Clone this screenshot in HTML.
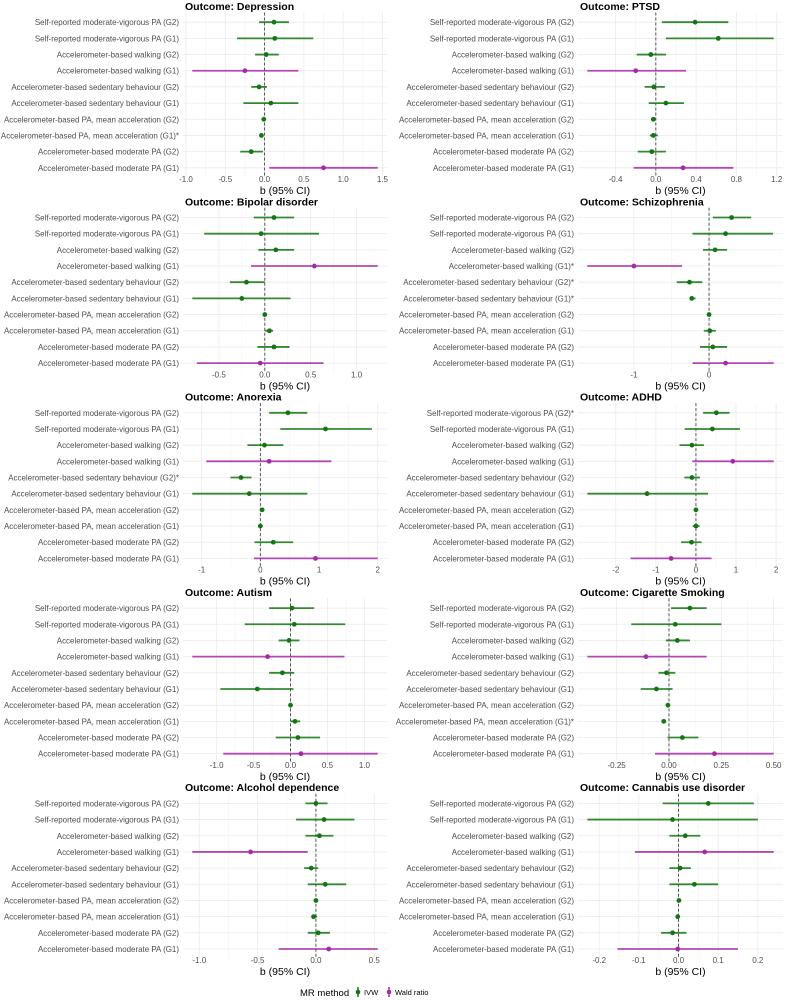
<!DOCTYPE html>
<html><head><meta charset="utf-8">
<style>
html,body{margin:0;padding:0;background:#fff;}
svg{display:block;font-family:"Liberation Sans",sans-serif;}
</style></head>
<body>
<svg id="chart" width="791" height="1000" viewBox="0 0 791 1000" xmlns="http://www.w3.org/2000/svg"></svg>
<script>
const exposures = ["Self-reported moderate-vigorous PA (G2)","Self-reported moderate-vigorous PA (G1)","Accelerometer-based walking (G2)","Accelerometer-based walking (G1)","Accelerometer-based sedentary behaviour (G2)","Accelerometer-based sedentary behaviour (G1)","Accelerometer-based PA, mean acceleration (G2)","Accelerometer-based PA, mean acceleration (G1)","Accelerometer-based moderate PA (G2)","Accelerometer-based moderate PA (G1)"];
const methods = ["IVW","IVW","IVW","Wald","IVW","IVW","IVW","IVW","IVW","Wald"];
const outcomes = ["Depression","PTSD","Bipolar disorder","Schizophrenia","Anorexia","ADHD","Autism","Cigarette Smoking","Alcohol dependence","Cannabis use disorder"];
const starred = [[7],[],[],[3,4,5],[4],[0],[],[7],[],[]];
const ticks = [[-1,-0.5,0,0.5,1,1.5],[-0.4,0,0.4,0.8,1.2],[-0.5,0,0.5,1],[-1,0],[-1,0,1,2],[-2,-1,0,1,2],[-1,-0.5,0,0.5,1],[-0.25,0,0.25,0.5],[-1,-0.5,0,0.5],[-0.2,-0.1,0,0.1,0.2]];
const tickLabels = [["-1.0","-0.5","0.0","0.5","1.0","1.5"],["-0.4","0.0","0.4","0.8","1.2"],["-0.5","0.0","0.5","1.0"],["-1","0"],["-1","0","1","2"],["-2","-1","0","1","2"],["-1.0","-0.5","0.0","0.5","1.0"],["-0.25","0.00","0.25","0.50"],["-1.0","-0.5","0.0","0.5"],["-0.2","-0.1","0.0","0.1","0.2"]];
// estimates, lower CI, upper CI per outcome (rows in exposure order)
const est = [
 [0.12,0.13,0.02,-0.25,-0.07,0.08,-0.01,-0.04,-0.17,0.75],
 [0.39,0.62,-0.05,-0.20,-0.02,0.10,-0.025,-0.025,-0.04,0.27],
 [0.10,-0.04,0.12,0.54,-0.20,-0.25,0,0.05,0.10,-0.05],
 [0.30,0.22,0.08,-1.0,-0.26,-0.23,0,0.01,0.05,0.22],
 [0.47,1.11,0.07,0.15,-0.33,-0.19,0.03,0,0.22,0.94],
 [0.51,0.41,-0.10,0.92,-0.10,-1.22,0,0,-0.11,-0.62],
 [0.02,0.05,-0.02,-0.31,-0.11,-0.45,0,0.06,0.10,0.14],
 [0.10,0.03,0.04,-0.11,-0.012,-0.06,-0.005,-0.025,0.064,0.217],
 [0.0,0.07,0.03,-0.56,-0.04,0.08,0,-0.02,0.02,0.11],
 [0.075,-0.015,0.017,0.066,0.004,0.04,0.001,-0.002,-0.015,-0.002]];
const lower = [
 [-0.07,-0.35,-0.12,-0.92,-0.17,-0.27,-0.03,-0.06,-0.31,0.06],
 [0.06,0.10,-0.19,-0.68,-0.11,-0.07,-0.04,-0.06,-0.18,-0.22],
 [-0.12,-0.66,-0.07,-0.15,-0.38,-0.79,-0.01,0.0,-0.08,-0.74],
 [0.05,-0.22,-0.08,-1.62,-0.43,-0.26,-0.01,-0.07,-0.12,-0.22],
 [0.15,0.34,-0.22,-0.92,-0.51,-1.16,0.01,-0.04,-0.10,-0.11],
 [0.18,-0.28,-0.41,-0.09,-0.29,-2.71,-0.02,-0.08,-0.37,-1.63],
 [-0.29,-0.62,-0.16,-1.33,-0.29,-0.95,-0.01,0,-0.20,-0.91],
 [0.01,-0.18,-0.015,-0.39,-0.05,-0.135,-0.01,-0.032,-0.007,-0.067],
 [-0.09,-0.17,-0.09,-1.06,-0.10,-0.07,-0.005,-0.04,-0.07,-0.32],
 [-0.04,-0.23,-0.023,-0.11,-0.023,-0.023,-0.001,-0.005,-0.044,-0.154]];
const upper = [
 [0.31,0.62,0.18,0.43,0.03,0.43,0.01,-0.02,-0.02,1.44],
 [0.72,1.17,0.10,0.30,0.09,0.28,0.0,0.02,0.10,0.77],
 [0.32,0.59,0.32,1.23,0.0,0.28,0.01,0.09,0.27,0.64],
 [0.56,0.85,0.24,-0.36,-0.09,-0.18,0.01,0.09,0.24,0.86],
 [0.80,1.90,0.39,1.21,-0.15,0.80,0.06,0.04,0.56,2.0],
 [0.84,1.10,0.20,1.94,0.10,0.30,0.04,0.09,0.14,0.39],
 [0.32,0.74,0.12,0.73,0.05,0.04,0.01,0.13,0.40,1.18],
 [0.18,0.25,0.10,0.18,0.03,0.017,0.002,-0.017,0.14,0.50],
 [0.10,0.33,0.15,-0.07,0.02,0.26,0.01,0.01,0.12,0.53],
 [0.19,0.20,0.055,0.24,0.031,0.10,0.004,0.0,0.02,0.15]];

const NS="http://www.w3.org/2000/svg";
const svg=document.getElementById('chart');
function mk(tag,attrs,parent){const e=document.createElementNS(NS,tag);for(const k in attrs)e.setAttribute(k,attrs[k]);(parent||svg).appendChild(e);return e;}
const colIVW="#137513", colW="#a62aa6";

outcomes.forEach((name,p)=>{
  const col=p%2, row=Math.floor(p/2);
  const T=row*195.3;
  const x0=col?578:183, x1=col?783:387;
  const y0=T+12.5, y1=T+177.5;
  const g=mk('g',{});
  
  
  let mn=Math.min(...lower[p]), mx=Math.max(...upper[p]);
  const pad=(mx-mn)*0.05; mn-=pad; mx+=pad;
  const sx=v=>x0+(v-mn)/(mx-mn)*(x1-x0);
  const step=(y1-y0)/(9+1.2);
  const sy=i=>y0+step*(0.6+i);
  ticks[p].forEach((t,k)=>{
    const gl=mk('line',{x1:sx(t),x2:sx(t),y1:y0,y2:y1,stroke:'#ebebeb','stroke-width':0.8},g);
    
    
    if(k<ticks[p].length-1){const m=(t+ticks[p][k+1])/2;
      const ml=mk('line',{x1:sx(m),x2:sx(m),y1:y0,y2:y1,stroke:'#f4f4f4','stroke-width':0.6},g);
      
      }
    const tl=mk('text',{x:sx(t),y:T+182,'font-size':8,fill:'#4d4d4d','text-anchor':'middle'},g);
    tl.textContent=tickLabels[p][k];
    
    
  });
  exposures.forEach((e,i)=>{
    const hl=mk('line',{x1:x0,x2:x1,y1:sy(i),y2:sy(i),stroke:'#ebebeb','stroke-width':0.8},g);
    
    
    const lb=mk('text',{x:x0-4,y:sy(i)+3,'font-size':7.95,fill:'#4d4d4d','text-anchor':'end'},g);
    lb.textContent=e+(starred[p].includes(i)?'*':'');
    
    
  });
  const z=mk('line',{x1:sx(0),x2:sx(0),y1:y0,y2:y1,stroke:'#444','stroke-width':0.9,'stroke-dasharray':'3,2'},g);
  
  
  exposures.forEach((e,i)=>{
    const c=methods[i]==='Wald'?colW:colIVW;
    const ci=mk('line',{x1:sx(lower[p][i]),x2:sx(upper[p][i]),y1:sy(i),y2:sy(i),stroke:c,'stroke-width':1.8,'stroke-opacity':0.85},g);
    
    
    const pt=mk('circle',{cx:sx(est[p][i]),cy:sy(i),r:2.4,fill:c},g);
    
    
  });
  const ti=mk('text',{x:x0+2,y:T+10,'font-size':10.5,'font-weight':'bold',fill:'#000'},g);
  ti.textContent='Outcome: '+name;
  
  
  const at=mk('text',{x:(x0+x1)/2,y:T+194,'font-size':10.5,fill:'#000','text-anchor':'middle'},g);
  at.textContent='b (95% CI)';
  
  
});
const lg=mk('g',{});


const lt=mk('text',{x:300,y:996,'font-size':9.5,fill:'#000'},lg);
lt.textContent='MR method';


[[colIVW,'IVW',358],[colW,'Wald ratio',389]].forEach(([c,t,x])=>{
  const ln=mk('line',{x1:x,x2:x,y1:987,y2:997,stroke:c,'stroke-width':1.5},lg);
  
  
  const ci=mk('circle',{cx:x,cy:992,r:2.3,fill:c},lg);
  
  
  const tx=mk('text',{x:x+6,y:995,'font-size':7.5,fill:'#000'},lg);
  tx.textContent=t;
  
  
});
</script>
</body></html>
